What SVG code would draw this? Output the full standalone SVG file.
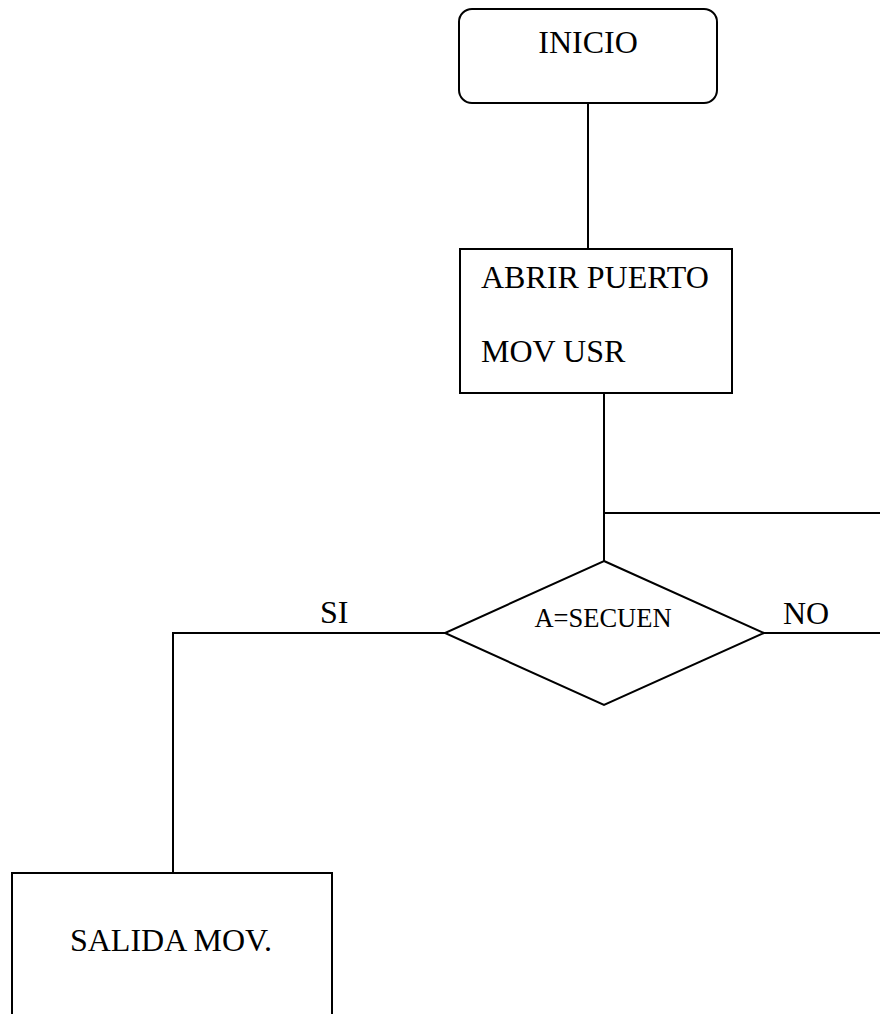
<svg xmlns="http://www.w3.org/2000/svg" width="880" height="1014" viewBox="0 0 880 1014">
<style>
.s{fill:#fff;stroke:#000;stroke-width:2}
.c{fill:none;stroke:#000;stroke-width:2}
.t{font-family:'Liberation Serif','Times New Roman',Times,serif;fill:#000;font-size:32px}
</style>
<rect width="880" height="1014" fill="#fff"/>
<g id="connectors">
<line class="c" x1="588" y1="103" x2="588" y2="249"/>
<line class="c" x1="604" y1="393" x2="604" y2="561"/>
<line class="c" x1="604" y1="513" x2="880" y2="513"/>
<line class="c" x1="764" y1="633" x2="880" y2="633"/>
<polyline class="c" points="445,633 173,633 173,873"/>
<text class="t" x="320" y="623">SI</text>
<text class="t" x="783" y="624">NO</text>
</g>
<g id="inicio">
<rect class="s" x="459" y="9" width="258" height="94" rx="13"/>
<text class="t" x="588" y="53" text-anchor="middle">INICIO</text>
</g>
<g id="abrir">
<rect class="s" x="460" y="249" width="272" height="144"/>
<text class="t" x="481" y="288">ABRIR PUERTO</text>
<text class="t" x="481" y="362">MOV USR</text>
</g>
<g id="decision">
<polygon class="s" points="604,561 764,633 604,705 445,633"/>
<text class="t" x="603" y="627" text-anchor="middle" style="font-size:26.5px">A=SECUEN</text>
</g>
<g id="salida">
<rect class="s" x="12" y="873" width="320" height="150"/>
<text class="t" x="171" y="951" text-anchor="middle">SALIDA MOV.</text>
</g>
</svg>
